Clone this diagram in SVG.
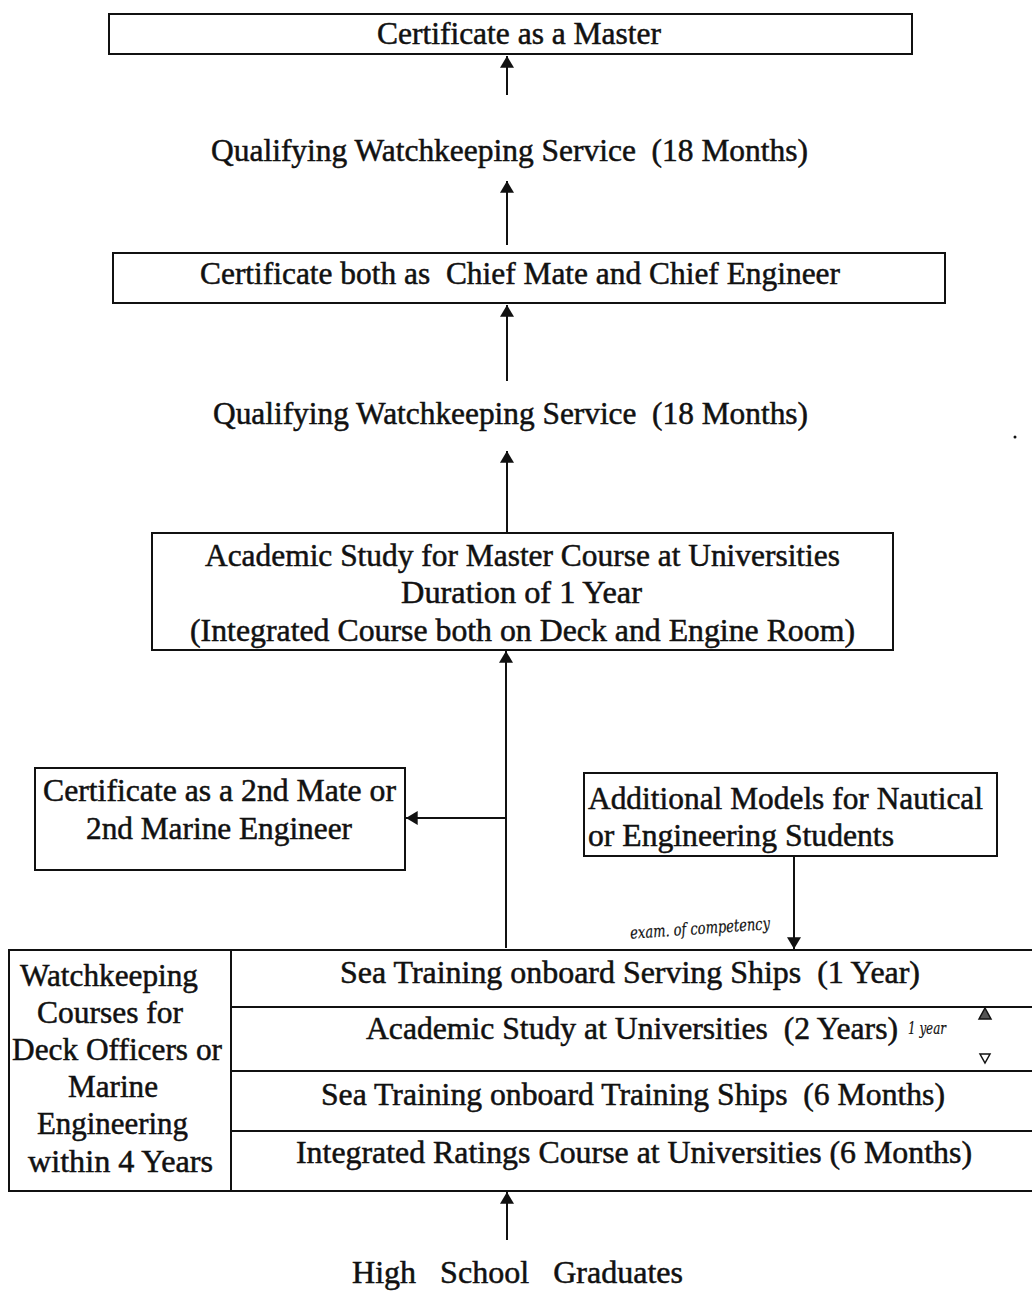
<svg xmlns="http://www.w3.org/2000/svg" width="1032" height="1291" viewBox="0 0 1032 1291">
  <style>
    .box { fill: none; stroke: #111; stroke-width: 2; }
    .rule { stroke: #111; stroke-width: 2; fill: none; }
    .conn { stroke: #111; stroke-width: 2; fill: none; marker-end: url(#head); }
    .t { font-family: "Liberation Serif", "Times New Roman", serif; font-size: 31px; fill: #111; stroke: #111; stroke-width: 0.5; }
    .c { text-anchor: middle; }
    .hand { font-family: "DejaVu Serif", "Liberation Serif", serif; font-style: italic; font-size: 17px; fill: #111; stroke: #111; stroke-width: 0.2; }
  </style>
  <defs>
    <marker id="head" viewBox="0 0 10 12" refX="10" refY="6" markerWidth="7" markerHeight="7" orient="auto" markerUnits="strokeWidth">
      <path d="M0,0 L10,6 L0,12 z" fill="#111"/>
    </marker>
  </defs>

  <rect width="1032" height="1291" fill="#fff"/>

  <!-- connectors -->
  <g id="connectors">
    <line class="conn" x1="507" y1="95" x2="507" y2="56"/>
    <line class="conn" x1="507" y1="245" x2="507" y2="181"/>
    <line class="conn" x1="507" y1="381" x2="507" y2="305"/>
    <line class="conn" x1="507" y1="533" x2="507" y2="451"/>
    <line class="conn" x1="506" y1="948" x2="506" y2="651"/>
    <line class="conn" x1="506" y1="818" x2="406" y2="818"/>
    <line class="conn" x1="794" y1="856" x2="794" y2="949"/>
    <line class="conn" x1="507" y1="1240" x2="507" y2="1192"/>
  </g>

  <g id="master">
    <rect class="box" x="109" y="14" width="803" height="40"/>
    <text class="t c" x="519" y="44" textLength="284" lengthAdjust="spacingAndGlyphs">Certificate as a Master</text>
  </g>

  <g id="service-upper">
    <text class="t c" x="509.5" y="161" xml:space="preserve" textLength="597" lengthAdjust="spacingAndGlyphs">Qualifying Watchkeeping Service  (18 Months)</text>
  </g>

  <g id="chief">
    <rect class="box" x="113" y="253" width="832" height="50"/>
    <text class="t c" x="520" y="284" xml:space="preserve" textLength="640" lengthAdjust="spacingAndGlyphs">Certificate both as  Chief Mate and Chief Engineer</text>
  </g>

  <g id="service-lower">
    <text class="t c" x="510.5" y="424" xml:space="preserve" textLength="595" lengthAdjust="spacingAndGlyphs">Qualifying Watchkeeping Service  (18 Months)</text>
  </g>

  <g id="master-course">
    <rect class="box" x="152" y="533" width="741" height="117"/>
    <text class="t c" x="522.5" y="566" textLength="635" lengthAdjust="spacingAndGlyphs">Academic Study for Master Course at Universities</text>
    <text class="t c" x="521.5" y="603" textLength="241" lengthAdjust="spacingAndGlyphs">Duration of 1 Year</text>
    <text class="t c" x="522.5" y="641" textLength="665" lengthAdjust="spacingAndGlyphs">(Integrated Course both on Deck and Engine Room)</text>
  </g>

  <g id="second-mate">
    <rect class="box" x="35" y="768" width="370" height="102"/>
    <text class="t c" x="219.5" y="801" textLength="353" lengthAdjust="spacingAndGlyphs">Certificate as a 2nd Mate or</text>
    <text class="t c" x="219" y="839" textLength="266" lengthAdjust="spacingAndGlyphs">2nd Marine Engineer</text>
  </g>

  <g id="additional">
    <rect class="box" x="584" y="773" width="413" height="83"/>
    <text class="t" x="588" y="809" textLength="395" lengthAdjust="spacingAndGlyphs">Additional Models for Nautical</text>
    <text class="t" x="588" y="846" textLength="306" lengthAdjust="spacingAndGlyphs">or Engineering Students</text>
  </g>

  <!-- handwritten notes -->
  <g id="notes">
    <text class="hand" x="630" y="934" textLength="140" lengthAdjust="spacingAndGlyphs" transform="rotate(-4 700 928)">exam. of competency</text>
    <text class="hand" x="908" y="1034" textLength="38" lengthAdjust="spacingAndGlyphs">1 year</text>
    <path d="M979,1019 L985,1008 L991,1019 z" fill="#555" stroke="#111" stroke-width="1.5"/>
    <path d="M980,1054 L990,1054 L985,1063 z" fill="none" stroke="#111" stroke-width="1.5"/>
    <circle cx="1015" cy="437" r="1.5" fill="#111"/>
  </g>

  <g id="watchkeeping-courses">
    <rect class="box" x="9" y="950" width="222" height="241"/>
    <text class="t c" x="109" y="986" textLength="178" lengthAdjust="spacingAndGlyphs">Watchkeeping</text>
    <text class="t c" x="110" y="1023" textLength="146" lengthAdjust="spacingAndGlyphs">Courses for</text>
    <text class="t c" x="117" y="1060" textLength="210" lengthAdjust="spacingAndGlyphs">Deck Officers or</text>
    <text class="t c" x="113" y="1097" textLength="90" lengthAdjust="spacingAndGlyphs">Marine</text>
    <text class="t c" x="112.5" y="1134" textLength="151" lengthAdjust="spacingAndGlyphs">Engineering</text>
    <text class="t c" x="120.5" y="1172" textLength="185" lengthAdjust="spacingAndGlyphs">within 4 Years</text>
  </g>

  <g id="course-stages">
    <line class="rule" x1="231" y1="950" x2="1032" y2="950"/>
    <line class="rule" x1="231" y1="1007" x2="1032" y2="1007"/>
    <line class="rule" x1="231" y1="1071" x2="1032" y2="1071"/>
    <line class="rule" x1="231" y1="1131" x2="1032" y2="1131"/>
    <line class="rule" x1="231" y1="1191" x2="1032" y2="1191"/>
    <text class="t c" x="630" y="983" xml:space="preserve" textLength="580" lengthAdjust="spacingAndGlyphs">Sea Training onboard Serving Ships  (1 Year)</text>
    <text class="t c" x="632" y="1039" xml:space="preserve" textLength="532" lengthAdjust="spacingAndGlyphs">Academic Study at Universities  (2 Years)</text>
    <text class="t c" x="633" y="1105" xml:space="preserve" textLength="624" lengthAdjust="spacingAndGlyphs">Sea Training onboard Training Ships  (6 Months)</text>
    <text class="t c" x="634" y="1163" textLength="676" lengthAdjust="spacingAndGlyphs">Integrated Ratings Course at Universities (6 Months)</text>
  </g>

  <g id="graduates">
    <text class="t c" x="517.5" y="1283" xml:space="preserve" textLength="331" lengthAdjust="spacingAndGlyphs">High   School   Graduates</text>
  </g>
</svg>
